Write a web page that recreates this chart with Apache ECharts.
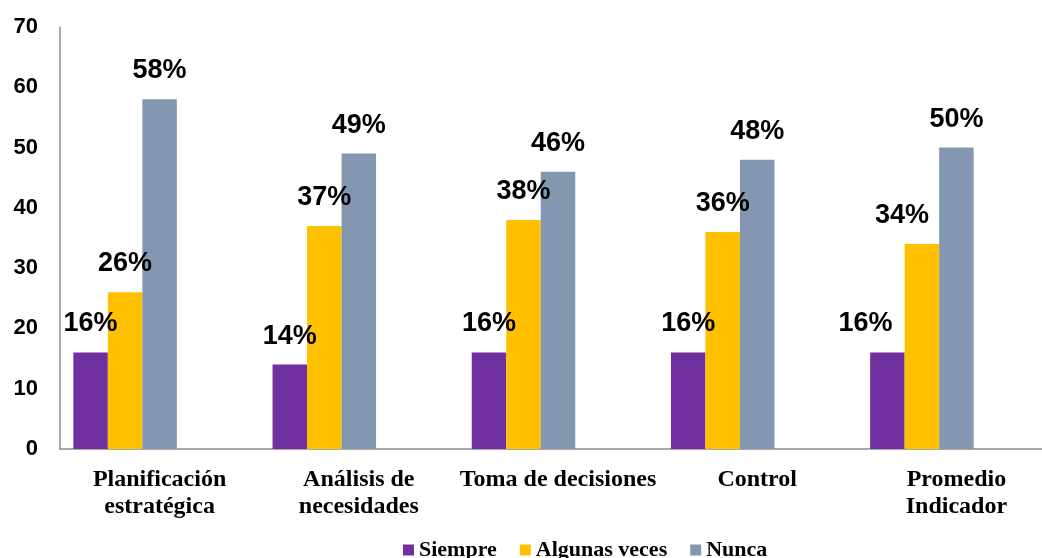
<!DOCTYPE html>
<html>
<head>
<meta charset="utf-8">
<script src="https://cdn.jsdelivr.net/npm/echarts@6/dist/echarts.min.js"></script>
<style>
  html, body { margin: 0; padding: 0; background: #fff; overflow: hidden; }
  /* the original is cropped on the right, so the chart is a little wider than the window */
  #chart { width: 1056px; height: 558px; }
</style>
</head>
<body>
<div id="chart"></div>
<script>
const categories = ['Planificación\nestratégica', 'Análisis de\nnecesidades', 'Toma de decisiones', 'Control', 'Promedio\nIndicador']
const siempre = [16, 14, 16, 16, 16]
const algunasVeces = [26, 37, 38, 36, 34]
const nunca = [58, 49, 46, 48, 50]
const yTicks = [0, 10, 20, 30, 40, 50, 60, 70]

const colors = ['#7030A0', '#FFC000', '#8497B0']

let myChart = echarts.init(document.getElementById('chart'))

// label of the last group sits a bit to the left in the original
function withLabels(values, lastShift) {
  return values.map((v, i) => {
    if (i === values.length - 1 && lastShift) {
      return { value: v, label: { offset: [lastShift, 0] } }
    }
    return v
  })
}

const labelStyle = {
  show: true,
  position: 'top',
  distance: 15,
  formatter: '{c}%',
  color: '#000',
  fontFamily: 'Liberation Sans',
  fontWeight: 'bold',
  fontSize: 27
}

function barSeries(name, values, color, lastShift) {
  return {
    type: 'bar',
    name: name,
    barGap: 0,
    barCategoryGap: '13.4%',
    itemStyle: { color: color },
    label: labelStyle,
    data: withLabels(values, lastShift)
  }
}

myChart.setOption({
  animation: false,
  grid: {
    left: 60,
    right: 0,
    top: 27,
    bottom: 109,
    containLabel: false
  },
  legend: {
    data: ['Siempre', 'Algunas veces', 'Nunca'],
    left: 398,
    top: 534,
    icon: 'rect',
    itemWidth: 11,
    itemHeight: 11,
    itemGap: 23,
    textStyle: {
      color: '#000',
      fontFamily: 'Liberation Serif',
      fontWeight: 'bold',
      fontSize: 22
    }
  },
  xAxis: {
    type: 'category',
    data: categories,
    axisTick: { show: false },
    axisLine: { lineStyle: { color: '#8c8c8c', width: 1.5 } },
    axisLabel: {
      interval: 0,
      margin: 17,
      color: '#000',
      fontFamily: 'Liberation Serif',
      fontWeight: 'bold',
      fontSize: 24,
      lineHeight: 27
    }
  },
  yAxis: {
    type: 'value',
    min: yTicks[0],
    max: yTicks[yTicks.length - 1],
    interval: 10,
    axisLine: { show: true, lineStyle: { color: '#8c8c8c', width: 1.5 } },
    axisTick: { show: false },
    splitLine: { show: false },
    axisLabel: {
      margin: 22,
      color: '#000',
      fontFamily: 'Liberation Sans',
      fontWeight: 'bold',
      fontSize: 22
    }
  },
  series: [
    barSeries('Siempre', siempre, colors[0], -22),
    barSeries('Algunas veces', algunasVeces, colors[1], -20),
    barSeries('Nunca', nunca, colors[2], 0),
    // two empty slots, as in the original the clusters are left-aligned
    { type: 'bar', name: 'pad1', barGap: 0, barCategoryGap: '13.4%', data: [] },
    { type: 'bar', name: 'pad2', barGap: 0, barCategoryGap: '13.4%', data: [] }
  ]
})

window.addEventListener('resize', () => {
  myChart.resize()
})
</script>
</body>
</html>
